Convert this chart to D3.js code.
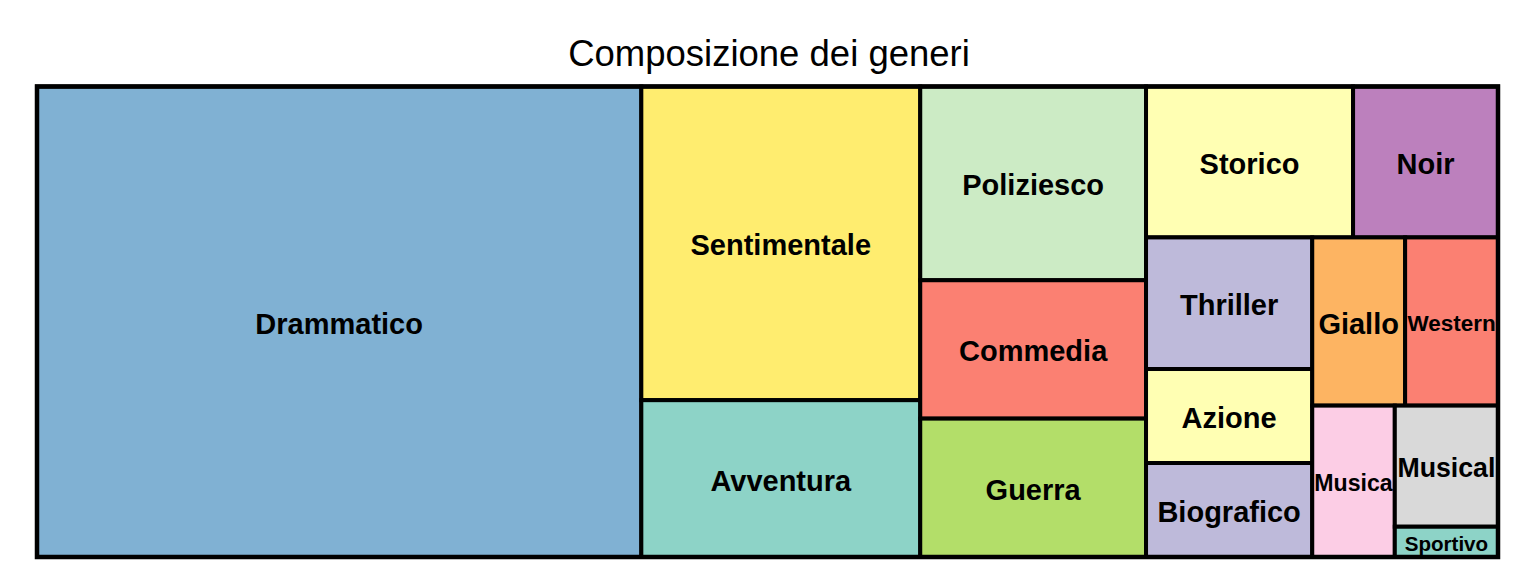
<!DOCTYPE html>
<html>
<head>
<meta charset="utf-8">
<script src="https://cdn.jsdelivr.net/npm/d3@7"></script>
<style>
  html, body { margin: 0; padding: 0; background: #fff; }
  svg { display: block; }
</style>
</head>
<body>
<svg id="chart" width="1536" height="576"></svg>
<script>
// Data
const genres = ["Drammatico","Sentimentale","Avventura","Poliziesco","Commedia","Guerra","Storico","Noir","Thriller","Azione","Biografico","Giallo","Western","Musica","Musical","Sportivo"];
const counts = [91, 28, 14, 14, 10, 10, 10, 7, 7, 5, 5, 5, 5, 4, 4, 1];
const title = "Composizione dei generi";

const area = {x0: 37, y0: 86.5, x1: 1498, y1: 557};

const svg = d3.select("#chart");

svg.append("text")
  .attr("x", 769).attr("y", 66)
  .attr("text-anchor", "middle")
  .attr("font-family", "Liberation Sans, Arial, sans-serif")
  .attr("font-size", 36.5)
  .attr("fill", "#000")
  .text(title);

const root = d3.hierarchy({children: genres.map((g, i) => ({name: g, value: counts[i]}))})
  .sum(d => d.value || 0);

d3.treemap()
  .tile(d3.treemapSquarify.ratio(1.08))
  .size([area.x1 - area.x0, area.y1 - area.y0])
  .paddingInner(0)(root);

const color = d3.scaleOrdinal()
  .domain(genres.slice().sort((a, b) => a.localeCompare(b)))
  .range(d3.schemeSet3);

const g = svg.append("g").attr("transform", `translate(${area.x0},${area.y0})`);

const cells = g.selectAll("g.cell").data(root.leaves()).join("g").attr("class", "cell");

cells.append("rect")
  .attr("x", d => d.x0).attr("y", d => d.y0)
  .attr("width", d => d.x1 - d.x0).attr("height", d => d.y1 - d.y0)
  .attr("fill", d => color(d.data.name));

cells.append("rect")
  .attr("x", d => d.x0).attr("y", d => d.y0)
  .attr("width", d => d.x1 - d.x0).attr("height", d => d.y1 - d.y0)
  .attr("fill", "none")
  .attr("stroke", "#000")
  .attr("stroke-width", 4);

g.append("rect")
  .attr("x", 0).attr("y", 0)
  .attr("width", area.x1 - area.x0).attr("height", area.y1 - area.y0)
  .attr("fill", "none").attr("stroke", "#000").attr("stroke-width", 4.5);

const baseSize = 29;
cells.append("text")
  .attr("x", d => (d.x0 + d.x1) / 2)
  .attr("y", d => (d.y0 + d.y1) / 2 + 2)
  .attr("text-anchor", "middle")
  .attr("dominant-baseline", "central")
  .attr("font-family", "Liberation Sans, Arial, sans-serif")
  .attr("font-weight", "bold")
  .attr("font-size", baseSize)
  .attr("fill", "#000")
  .text(d => d.data.name)
  .each(function(d) {
    const tw = this.getComputedTextLength();
    const w = d.x1 - d.x0, h = d.y1 - d.y0;
    let fs = Math.min(baseSize, baseSize * (w * 0.95) / tw, h * 0.68);
    d3.select(this).attr("font-size", fs);
  });
</script>
</body>
</html>
